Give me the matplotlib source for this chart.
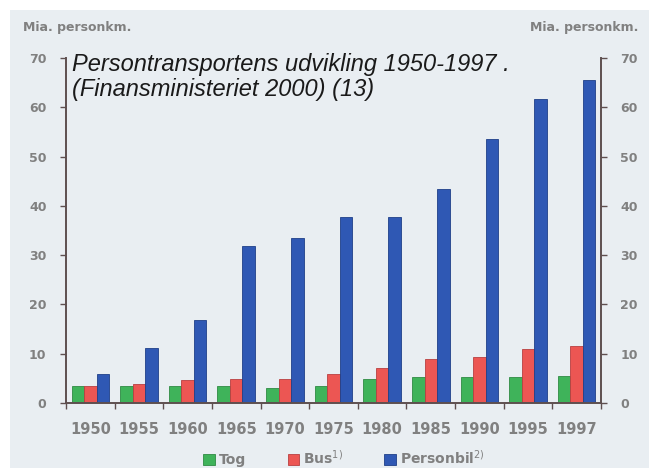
import matplotlib.pyplot as plt
import matplotlib.patches as patches
import numpy as np

# Data (mia. personkm)
years = ['1950', '1955', '1960', '1965', '1970', '1975', '1980', '1985', '1990', '1995', '1997']
tog = [3.4, 3.4, 3.4, 3.4, 3.1, 3.4, 4.8, 5.2, 5.2, 5.2, 5.5]
bus = [3.4, 3.9, 4.6, 4.8, 4.8, 5.8, 7.1, 9.0, 9.3, 10.9, 11.6]
personbil = [5.9, 11.1, 16.8, 31.9, 33.5, 37.8, 37.8, 43.4, 53.6, 61.6, 65.5]

colors = {
    'tog': '#3fb35a',
    'bus': '#ec5653',
    'bil': '#2f58b4',
    'bg': '#e9eef2',
    'axis': '#5e4f4f',
    'label': '#808080',
}

fig = plt.figure(figsize=(6.49, 4.68), dpi=100)
fig.patch.set_facecolor('white')
# scanned page background, with white border at top and left
bg = patches.Rectangle((10 / 649, 0), 1, 1 - 10 / 468, transform=fig.transFigure,
                       facecolor=colors['bg'], edgecolor='none', zorder=-5)
fig.add_artist(bg)

ax = fig.add_axes([66 / 649, 65 / 468, 535 / 649, 345 / 468])
ax.set_facecolor('none')
ax.set_zorder(1)

x = np.arange(len(years))
w = 0.257
ax.bar(x - w, tog, w, color=colors['tog'], edgecolor='#2f8a44', linewidth=0.6, label='Tog')
ax.bar(x, bus, w, color=colors['bus'], edgecolor='#b84040', linewidth=0.6, label='Bus$^{1)}$')
ax.bar(x + w, personbil, w, color=colors['bil'], edgecolor='#1f3f88', linewidth=0.6, label='Personbil$^{2)}$')

ax.set_xlim(-0.5, len(years) - 0.5)
ax.set_ylim(0, 70)

ax.spines['top'].set_visible(False)
for s in ['left', 'right', 'bottom']:
    ax.spines[s].set_color(colors['axis'])
    ax.spines[s].set_linewidth(1.4)

ax.set_yticks(np.arange(0, 71, 10))
ax.set_yticklabels([str(v) for v in range(0, 71, 10)])
ax.tick_params(axis='y', which='both', left=True, right=True, labelleft=True, labelright=True,
               direction='out', length=4, width=1, color=colors['axis'],
               labelsize=9, labelcolor=colors['label'], pad=10)
for t in ax.get_yticklabels():
    t.set_fontweight('bold')

ax.set_xticks(x)
ax.set_xticklabels(years)
ax.set_xticks(np.arange(-0.5, len(years), 1), minor=True)
ax.tick_params(axis='x', which='major', length=0, labelsize=10.5, labelcolor=colors['label'], pad=14)
ax.tick_params(axis='x', which='minor', length=4, width=1, color=colors['axis'], direction='out')
for t in ax.get_xticklabels():
    t.set_fontweight('bold')

# axis unit labels
fig.text(23 / 649, 1 - 28 / 468, 'Mia. personkm.', fontsize=9, color=colors['label'],
         fontweight='bold', ha='left', va='center')
fig.text(638 / 649, 1 - 28 / 468, 'Mia. personkm.', fontsize=9, color=colors['label'],
         fontweight='bold', ha='right', va='center')

# title inside the plot area
fig.text(72 / 649, 1 - 53 / 468,
         'Persontransportens udvikling 1950-1997 .\n(Finansministeriet 2000) (13)',
         fontsize=17, style='italic', family='Liberation Sans', color='#1a1a1a',
         ha='left', va='top', linespacing=1.1, zorder=5)

leg = fig.legend(loc='lower center', bbox_to_anchor=(0.53, -0.025), ncol=3, frameon=False,
                 handlelength=0.8, handleheight=0.8, handletextpad=0.3, columnspacing=3.0,
                 fontsize=10)
for t in leg.get_texts():
    t.set_color(colors['label'])
    t.set_fontweight('bold')

fig.savefig('out.png', dpi=100, facecolor=fig.get_facecolor())
